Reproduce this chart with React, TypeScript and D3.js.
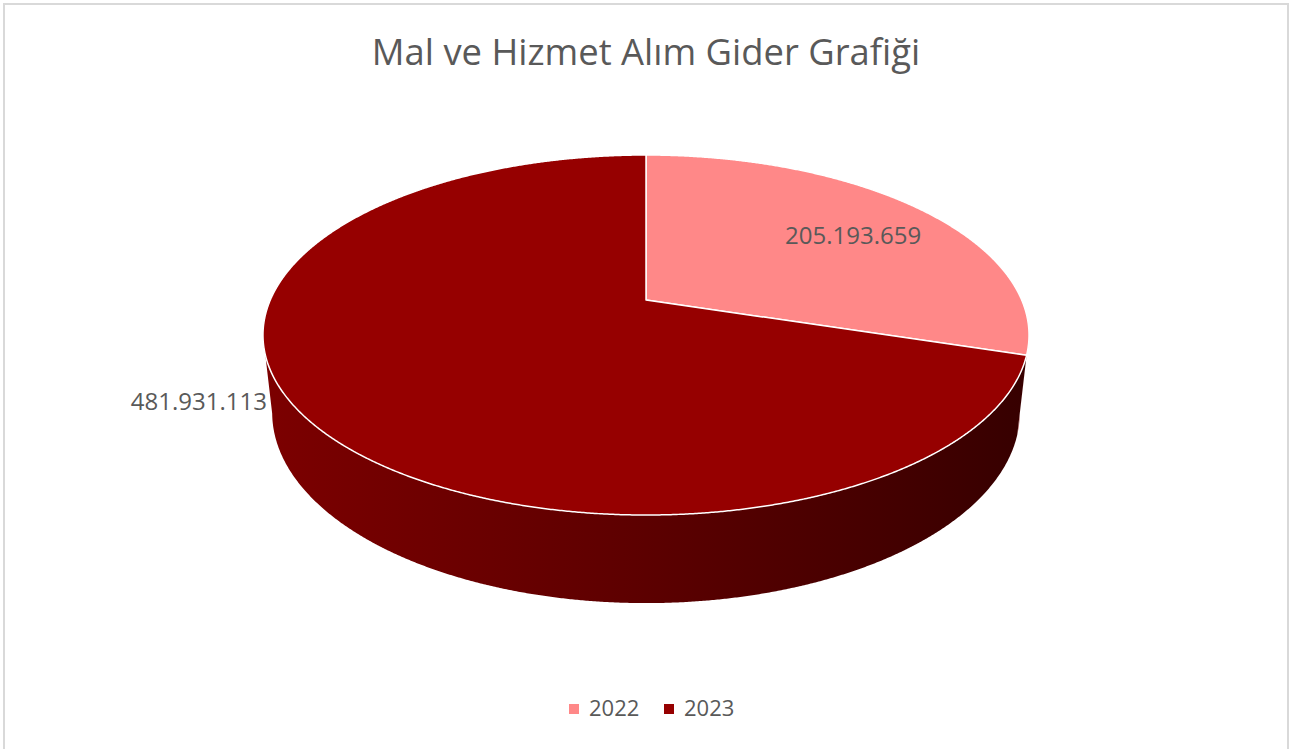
import React from "react";
import * as d3 from "d3";

// ---- data ----
const years = ["2022", "2023"];
const values = [205193659, 481931113];
const valueLabels = ["205.193.659", "481.931.113"];
const topColors = ["#FF8888", "#960000"];
const sideColors = ["#B85A5A", "url(#sideGrad)"];
const title = "Mal ve Hizmet Alım Gider Grafiği";

// ---- layout ----
const W = 1291, H = 749;
const CX = 646, CY = 300;
const SIN_A = 0.461, COS_A = 0.8874;
const L = 4.5624, F = 1714.1, DEPTH = 0.2343;
const FONT = "'Open Sans', 'Noto Sans', sans-serif";
const TEXT = "#595959";

function project(theta: number, r: number, level: number): [number, number] {
  const X = r * Math.sin(theta);
  const Z = -r * Math.cos(theta);
  const Y = -level * DEPTH;
  const d = L - (Y * SIN_A + Z * COS_A);
  const v = Y * COS_A - Z * SIN_A;
  return [CX + (F * X) / d, CY - (F * v) / d];
}

function samples(a0: number, a1: number): number[] {
  const n = Math.max(2, Math.ceil(Math.abs(a1 - a0) / 0.004));
  return d3.range(n + 1).map((i) => a0 + ((a1 - a0) * i) / n);
}

const line = d3.line<[number, number]>();

const visStart = Math.acos(-COS_A / L);
const visEnd = 2 * Math.PI - visStart;

export default function App() {
  const arcs = d3.pie<number>().sort(null).startAngle(0).endAngle(2 * Math.PI)(values);

  const sides = arcs.map((a, i) => {
    const s = Math.max(a.startAngle, visStart);
    const e = Math.min(a.endAngle, visEnd);
    if (e <= s) return null;
    const topPts = samples(s, e).map((t) => project(t, 1, 0));
    const botPts = samples(e, s).map((t) => project(t, 1, 1));
    return <path key={"s" + i} d={line([...topPts, ...botPts])! + "Z"} fill={sideColors[i]} stroke="none" />;
  });

  const tops = arcs.map((a, i) => {
    const pts: [number, number][] = [project(0, 0, 0), ...samples(a.startAngle, a.endAngle).map((t) => project(t, 1, 0))];
    return (
      <path key={"t" + i} d={line(pts)! + "Z"} fill={topColors[i]} stroke="#ffffff" strokeWidth={1.5} strokeLinejoin="round" />
    );
  });

  // label positions
  const mid0 = (arcs[0].startAngle + arcs[0].endAngle) / 2;
  const p0 = project(mid0, 0.68, 0);
  const edgeLeft = project(visEnd, 1, 0);

  return (
    <svg width={W} height={H} style={{ position: "absolute", left: 0, top: 0, background: "#fff" }}>
      <defs>
        <linearGradient id="sideGrad" gradientUnits="userSpaceOnUse" x1={263} y1={0} x2={1030} y2={0}>
          <stop offset="0" stopColor="#7C0000" />
          <stop offset="0.5" stopColor="#5C0000" />
          <stop offset="1" stopColor="#360000" />
        </linearGradient>
      </defs>
      <rect x={4} y={4} width={1284} height={H + 10} fill="#fff" stroke="#d9d9d9" strokeWidth={2} />
      <text x={CX} y={65} textAnchor="middle" fontFamily={FONT} fontSize={36.4} fill={TEXT}>
        {title}
      </text>
      {sides}
      {tops}
      <text x={p0[0] + 16} y={p0[1] + 9} textAnchor="middle" fontFamily={FONT} fontSize={24} fill={TEXT}>
        {valueLabels[0]}
      </text>
      <text x={edgeLeft[0] + 4} y={410} textAnchor="end" fontFamily={FONT} fontSize={24} fill={TEXT}>
        {valueLabels[1]}
      </text>
      {years.map((y, i) => (
        <g key={y} transform={`translate(${569 + i * 95},0)`}>
          <rect x={0} y={704} width={10} height={10} fill={topColors[i]} />
          <text x={20} y={716} fontFamily={FONT} fontSize={22} fill={TEXT}>
            {y}
          </text>
        </g>
      ))}
    </svg>
  );
}
